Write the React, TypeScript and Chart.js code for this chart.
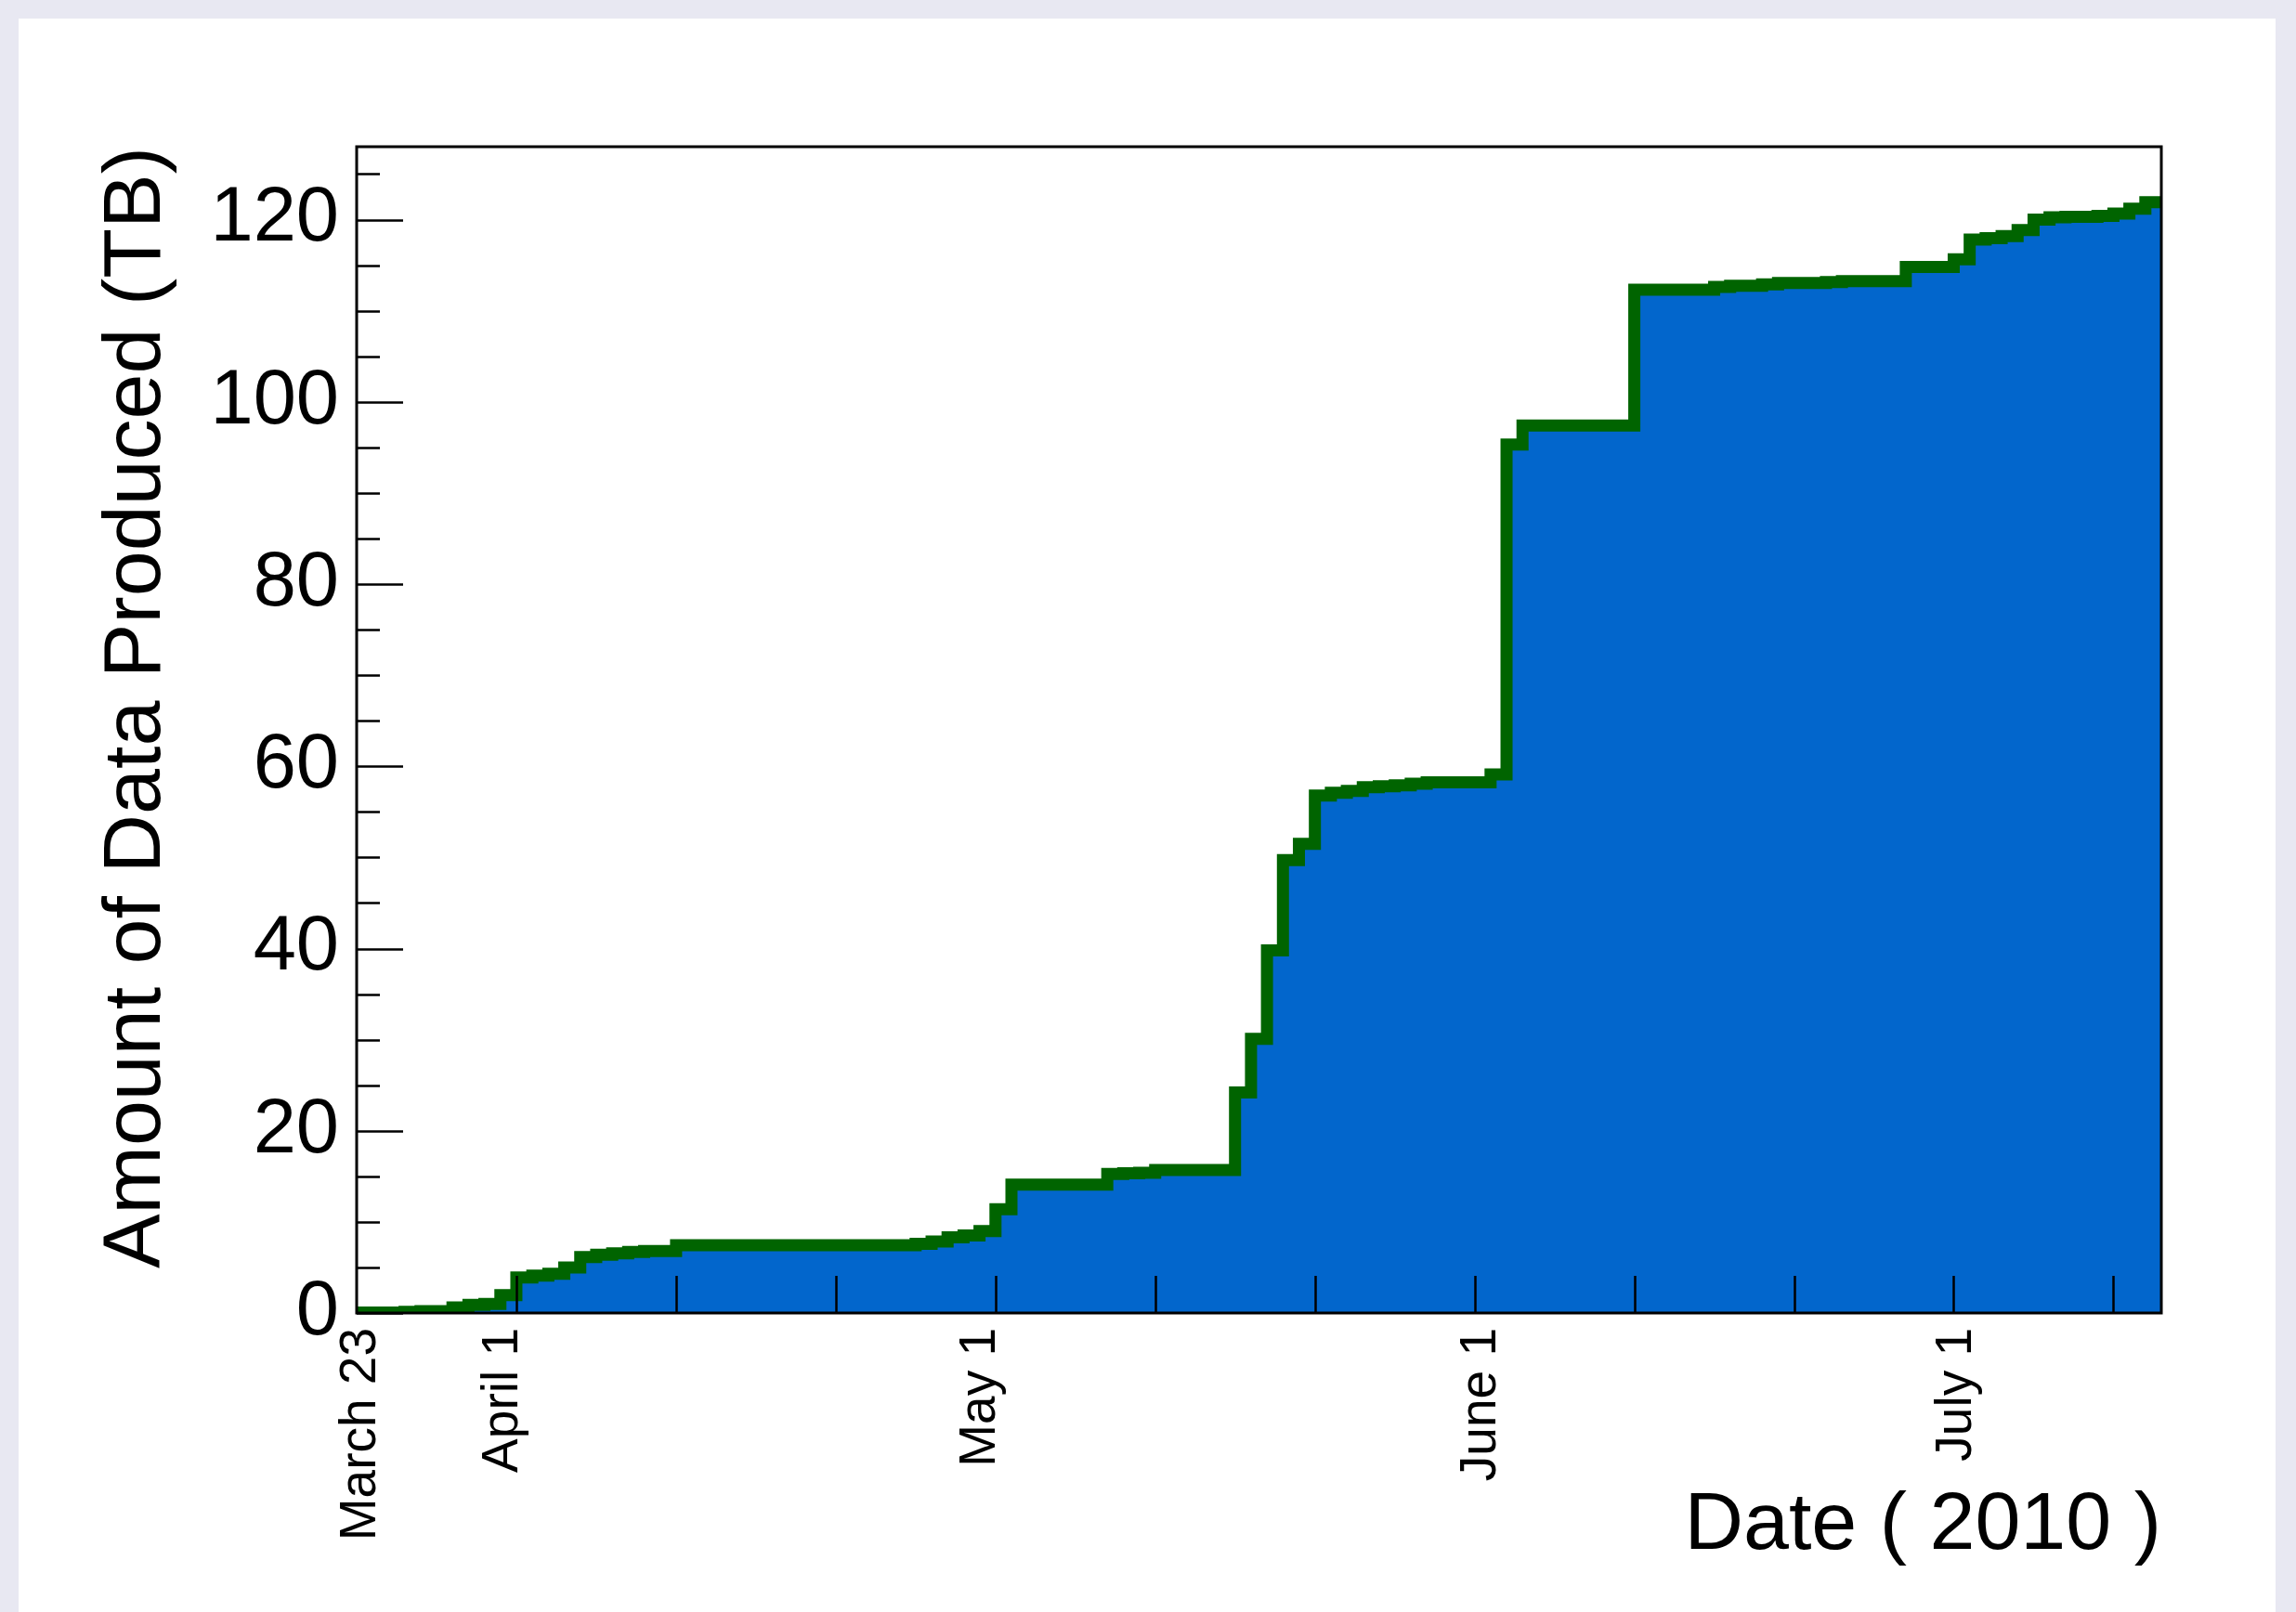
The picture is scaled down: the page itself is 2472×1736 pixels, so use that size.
import React, { useEffect, useRef } from "react";
import { Chart, registerables } from "chart.js";

Chart.register(...registerables);

const FONT = '"Liberation Sans", Arial, Helvetica, sans-serif';

// Cumulative amount of data produced (TB), one value per daily bin starting at the left edge (March 23).
const CUMULATIVE_TB = [
  0.05, 0.05, 0.05, 0.12, 0.2, 0.2, 0.6, 0.9, 1.0, 1.95,
  3.9, 4.1, 4.3, 5.0, 6.15, 6.4, 6.55, 6.7, 6.8, 6.8,
  7.45, 7.45, 7.45, 7.45, 7.45, 7.45, 7.45, 7.45, 7.45, 7.45,
  7.45, 7.45, 7.45, 7.45, 7.45, 7.6, 7.85, 8.3, 8.5, 9.0,
  11.4, 14.1, 14.1, 14.1, 14.1, 14.1, 14.1, 15.25, 15.35, 15.4,
  15.7, 15.7, 15.7, 15.7, 15.7, 24.2, 30.1, 39.8, 49.7, 51.5,
  56.8, 57.1, 57.3, 57.7, 57.8, 57.9, 58.1, 58.25, 58.25, 58.25,
  58.25, 59.1, 95.3, 97.4, 97.4, 97.4, 97.4, 97.4, 97.4, 97.4,
  112.3, 112.3, 112.3, 112.3, 112.3, 112.6, 112.75, 112.75, 112.9, 113.05,
  113.05, 113.05, 113.15, 113.25, 113.25, 113.25, 113.25, 114.8, 114.8, 114.8,
  115.65, 117.8, 117.95, 118.2, 118.85, 120.0, 120.25, 120.3, 120.3, 120.4,
  120.65, 121.2, 121.9,
];

const X_MAX_DAYS = 113;
const X_TICK_DAYS = [10, 20, 30, 40, 50, 60, 70, 80, 90, 100, 110];
const X_LABEL_TEXT = ["March 23", "April 1", "May 1", "June 1", "July 1"];
const X_LABEL_DAYS = [0.3, 9.2, 39.1, 70.4, 100.2];

const Y_MAX = 128;
const Y_MAJOR_TICKS = [0, 20, 40, 60, 80, 100, 120];
const Y_MINOR_TICKS = [5, 10, 15, 25, 30, 35, 45, 50, 55, 65, 70, 75, 85, 90, 95, 105, 110, 115, 125];

const X_TITLE = "Date ( 2010 )";
const Y_TITLE = "Amount of Data Produced (TB)";

const FILL_COLOR = "#0266cc";
const LINE_COLOR = "#006400";

const framePlugin = {
  id: "rootFrame",
  afterDatasetsDraw(chart: any) {
    const { ctx, chartArea: a, scales } = chart;
    const x = scales.x;
    const y = scales.y;
    ctx.save();
    ctx.strokeStyle = "#000";
    ctx.lineWidth = 2.5;
    ctx.beginPath();
    for (const t of X_TICK_DAYS) {
      const px = Math.round(x.getPixelForValue(t)) + 0.5;
      ctx.moveTo(px, a.bottom);
      ctx.lineTo(px, a.bottom - 40);
    }
    for (const t of Y_MAJOR_TICKS) {
      const py = Math.round(y.getPixelForValue(t)) + 0.5;
      ctx.moveTo(a.left, py);
      ctx.lineTo(a.left + 50, py);
    }
    for (const t of Y_MINOR_TICKS) {
      const py = Math.round(y.getPixelForValue(t)) + 0.5;
      ctx.moveTo(a.left, py);
      ctx.lineTo(a.left + 25, py);
    }
    ctx.stroke();
    ctx.lineWidth = 3;
    ctx.strokeRect(a.left, a.top, a.right - a.left, a.bottom - a.top);

    // rotated date labels
    ctx.fillStyle = "#000";
    ctx.font = `55px ${FONT}`;
    ctx.textAlign = "right";
    ctx.textBaseline = "middle";
    X_LABEL_TEXT.forEach((txt, i) => {
      const px = x.getPixelForValue(X_LABEL_DAYS[i]);
      ctx.save();
      ctx.translate(px, a.bottom + 16);
      ctx.rotate(-Math.PI / 2);
      ctx.fillText(txt, 0, 0);
      ctx.restore();
    });
    ctx.restore();
  },
};

export default function App() {
  const canvasRef = useRef<HTMLCanvasElement | null>(null);

  useEffect(() => {
    const canvas = canvasRef.current;
    if (!canvas) return;
    const points = CUMULATIVE_TB.map((v, i) => ({ x: i, y: v }));
    points.push({ x: X_MAX_DAYS, y: CUMULATIVE_TB[CUMULATIVE_TB.length - 1] });

    const chart = new Chart(canvas, {
      type: "line",
      data: {
        datasets: [
          {
            data: points,
            stepped: true,
            fill: "origin",
            backgroundColor: FILL_COLOR,
            borderColor: LINE_COLOR,
            borderWidth: 13,
            borderJoinStyle: "miter",
            borderCapStyle: "butt",
            pointRadius: 0,
            tension: 0,
          } as any,
        ],
      },
      options: {
        animation: false,
        responsive: false,
        maintainAspectRatio: false,
        layout: { padding: { left: 20, top: 158, right: 145, bottom: 0 } },
        plugins: {
          legend: { display: false },
          tooltip: { enabled: false },
          title: { display: false },
        },
        scales: {
          x: {
            type: "linear",
            min: 0,
            max: X_MAX_DAYS,
            grid: { display: false },
            border: { display: false },
            ticks: { display: false },
            title: {
              display: true,
              text: X_TITLE,
              align: "end",
              color: "#000",
              font: { family: FONT, size: 88 },
              padding: { top: 0, bottom: 39 },
            },
            afterFit(scale: any) {
              scale.height = 322;
            },
          },
          y: {
            type: "linear",
            min: 0,
            max: Y_MAX,
            grid: { display: false },
            border: { display: false },
            afterBuildTicks(scale: any) {
              scale.ticks = Y_MAJOR_TICKS.map((v) => ({ value: v }));
            },
            ticks: {
              color: "#000",
              padding: 11,
              font: { family: FONT, size: 83 },
              callback: (v: any) => String(v),
            },
            title: {
              display: true,
              text: Y_TITLE,
              align: "end",
              color: "#000",
              font: { family: FONT, size: 88 },
              padding: { top: 75, bottom: 0 },
            },
            afterFit(scale: any) {
              scale.width = 364;
            },
          },
        },
      },
      plugins: [framePlugin],
    });
    return () => chart.destroy();
  }, []);

  return (
    <div style={{ position: "fixed", left: 0, top: 0, width: 2472, height: 1736, background: "rgb(232,232,242)", overflow: "hidden" }}>
      <div style={{ position: "absolute", left: 20, top: 20, width: 2430, height: 1716, background: "#fff" }} />
      <canvas ref={canvasRef} width={2472} height={1736} style={{ position: "absolute", left: 0, top: 0, width: 2472, height: 1736 }} />
    </div>
  );
}
